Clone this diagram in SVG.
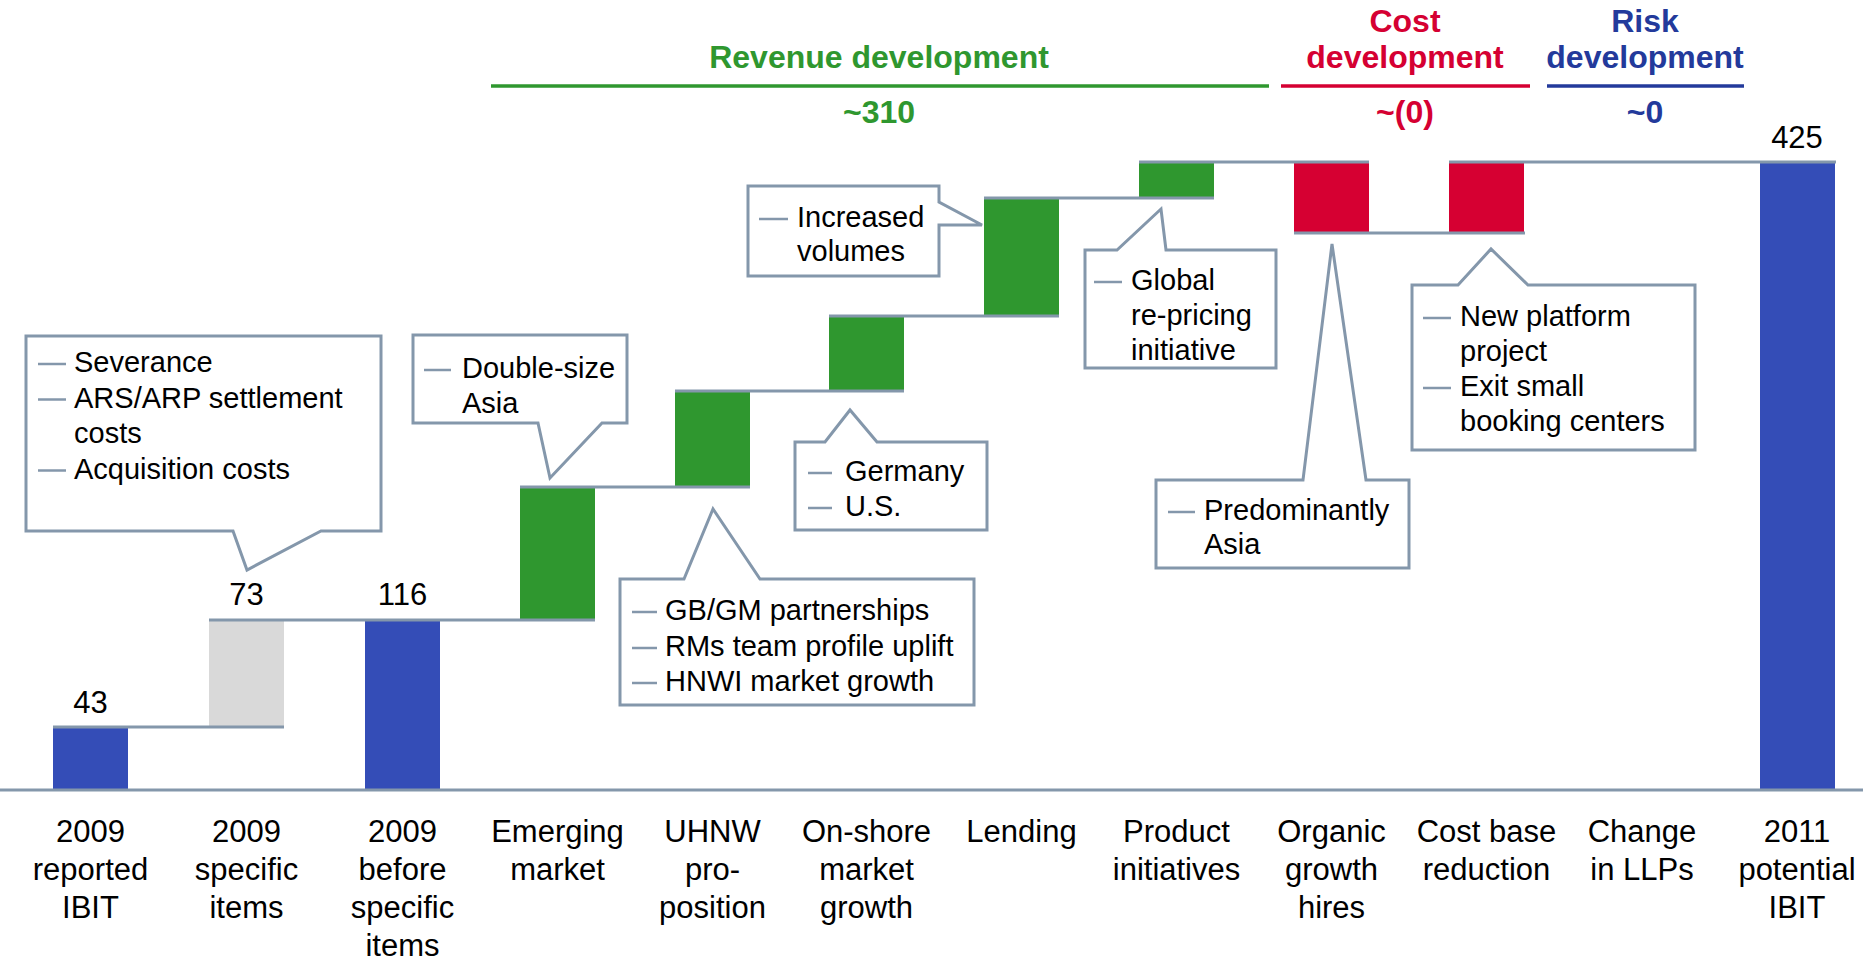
<svg xmlns="http://www.w3.org/2000/svg" width="1863" height="964" viewBox="0 0 1863 964">
<style>
text{font-family:"Liberation Sans",Arial,sans-serif;fill:#000}
.cat{font-size:31px;text-anchor:middle}
.val{font-size:31px;text-anchor:middle}
.co{font-size:29px}
.hd{font-size:32px;font-weight:bold;text-anchor:middle}
.g{fill:#2F972F}.r{fill:#D50032}.b{fill:#233A9B}
.bb{fill:#344DB7}.bg{fill:#2F972F}.br{fill:#D60032}.bgr{fill:#D9D9D9}
.step{stroke:#8497AB;stroke-width:3;fill:none}
.box{fill:#fff;stroke:#8497AB;stroke-width:3;stroke-linejoin:miter}
.dash{stroke:#8497AB;stroke-width:2.5}
</style>
<rect width="1863" height="964" fill="#fff"/>
<g id="headers">
<text class="hd g" x="879" y="67.5">Revenue development</text>
<line x1="491" y1="86" x2="1269" y2="86" stroke="#2F972F" stroke-width="3.5"/>
<text class="hd g" x="879" y="123">~310</text>
<text class="hd r" x="1405" y="32">Cost</text>
<text class="hd r" x="1405" y="67.5">development</text>
<line x1="1281" y1="86" x2="1530" y2="86" stroke="#D50032" stroke-width="3.5"/>
<text class="hd r" x="1405" y="123">~(0)</text>
<text class="hd b" x="1645" y="32">Risk</text>
<text class="hd b" x="1645" y="67.5">development</text>
<line x1="1547" y1="86" x2="1744" y2="86" stroke="#233A9B" stroke-width="3.5"/>
<text class="hd b" x="1645" y="123">~0</text>
</g>
<g id="bars">
<g id="bar-2009-reported"><rect class="bb" x="53" y="728" width="75" height="62"/><text class="val" x="90.5" y="713">43</text></g>
<g id="bar-2009-specific"><rect class="bgr" x="209" y="621" width="75" height="106"/><text class="val" x="246.5" y="605">73</text></g>
<g id="bar-2009-before"><rect class="bb" x="365" y="621" width="75" height="169"/><text class="val" x="402.5" y="605">116</text></g>
<g id="bar-emerging"><rect class="bg" x="520" y="488" width="75" height="131"/></g>
<g id="bar-uhnw"><rect class="bg" x="675" y="392" width="75" height="94"/></g>
<g id="bar-onshore"><rect class="bg" x="829" y="317" width="75" height="73"/></g>
<g id="bar-lending"><rect class="bg" x="984" y="199" width="75" height="116"/></g>
<g id="bar-product"><rect class="bg" x="1139" y="163" width="75" height="34"/></g>
<g id="bar-organic"><rect class="br" x="1294" y="163" width="75" height="69"/></g>
<g id="bar-costbase"><rect class="br" x="1449" y="163" width="75" height="69"/></g>
<g id="bar-2011"><rect class="bb" x="1760" y="163" width="75" height="627"/><text class="val" x="1797" y="148">425</text></g>
</g>
<g id="connectors">
<line class="step" x1="0" y1="790" x2="1863" y2="790"/>
<line class="step" x1="53" y1="727" x2="284" y2="727"/>
<line class="step" x1="209" y1="620" x2="595" y2="620"/>
<line class="step" x1="520" y1="487" x2="750" y2="487"/>
<line class="step" x1="675" y1="391" x2="904" y2="391"/>
<line class="step" x1="829" y1="316" x2="1059" y2="316"/>
<line class="step" x1="984" y1="198" x2="1214" y2="198"/>
<line class="step" x1="1139" y1="162" x2="1369" y2="162"/>
<line class="step" x1="1294" y1="233" x2="1525" y2="233"/>
<line class="step" x1="1449" y1="162" x2="1836" y2="162"/>
</g>
<g id="categories">
<text class="cat"><tspan x="90.5" y="842">2009</tspan><tspan x="90.5" y="880">reported</tspan><tspan x="90.5" y="918">IBIT</tspan></text>
<text class="cat"><tspan x="246.5" y="842">2009</tspan><tspan x="246.5" y="880">specific</tspan><tspan x="246.5" y="918">items</tspan></text>
<text class="cat"><tspan x="402.5" y="842">2009</tspan><tspan x="402.5" y="880">before</tspan><tspan x="402.5" y="918">specific</tspan><tspan x="402.5" y="956">items</tspan></text>
<text class="cat"><tspan x="557.5" y="842">Emerging</tspan><tspan x="557.5" y="880">market</tspan></text>
<text class="cat"><tspan x="712.5" y="842">UHNW</tspan><tspan x="712.5" y="880">pro-</tspan><tspan x="712.5" y="918">position</tspan></text>
<text class="cat"><tspan x="866.5" y="842">On-shore</tspan><tspan x="866.5" y="880">market</tspan><tspan x="866.5" y="918">growth</tspan></text>
<text class="cat"><tspan x="1021.5" y="842">Lending</tspan></text>
<text class="cat"><tspan x="1176.5" y="842">Product</tspan><tspan x="1176.5" y="880">initiatives</tspan></text>
<text class="cat"><tspan x="1331.5" y="842">Organic</tspan><tspan x="1331.5" y="880">growth</tspan><tspan x="1331.5" y="918">hires</tspan></text>
<text class="cat"><tspan x="1486.5" y="842">Cost base</tspan><tspan x="1486.5" y="880">reduction</tspan></text>
<text class="cat"><tspan x="1642" y="842">Change</tspan><tspan x="1642" y="880">in LLPs</tspan></text>
<text class="cat"><tspan x="1797" y="842">2011</tspan><tspan x="1797" y="880">potential</tspan><tspan x="1797" y="918">IBIT</tspan></text>
</g>
<g id="callout-specific">
<path class="box" d="M26,336 H381 V531 H321 L247,570 L233,531 H26 Z"/>
<line class="dash" x1="38" y1="364" x2="66" y2="364"/><text class="co" x="74" y="372">Severance</text>
<line class="dash" x1="38" y1="399.5" x2="66" y2="399.5"/><text class="co" x="74" y="407.5">ARS/ARP settlement</text>
<text class="co" x="74" y="443">costs</text>
<line class="dash" x1="38" y1="470.5" x2="66" y2="470.5"/><text class="co" x="74" y="478.5">Acquisition costs</text>
</g>
<g id="callout-emerging">
<path class="box" d="M413,335 H627 V423 H602 L550,478 L538,423 H413 Z"/>
<line class="dash" x1="424" y1="370" x2="451" y2="370"/><text class="co" x="462" y="378">Double-size</text>
<text class="co" x="462" y="413">Asia</text>
</g>
<g id="callout-uhnw">
<path class="box" d="M620,579 H684 L713,509 L760,579 H974 V705 H620 Z"/>
<line class="dash" x1="632" y1="612" x2="657" y2="612"/><text class="co" x="665" y="620">GB/GM partnerships</text>
<line class="dash" x1="632" y1="648" x2="657" y2="648"/><text class="co" x="665" y="656">RMs team profile uplift</text>
<line class="dash" x1="632" y1="683" x2="657" y2="683"/><text class="co" x="665" y="691">HNWI market growth</text>
</g>
<g id="callout-onshore">
<path class="box" d="M795,442 H825 L850,410 L877,442 H987 V530 H795 Z"/>
<line class="dash" x1="808" y1="473" x2="832" y2="473"/><text class="co" x="845" y="481">Germany</text>
<line class="dash" x1="808" y1="508" x2="832" y2="508"/><text class="co" x="845" y="516">U.S.</text>
</g>
<g id="callout-lending">
<path class="box" d="M748,186 H939 V202 L982,225 H939 V276 H748 Z"/>
<line class="dash" x1="759" y1="219" x2="788" y2="219"/><text class="co" x="797" y="227">Increased</text>
<text class="co" x="797" y="261">volumes</text>
</g>
<g id="callout-product">
<path class="box" d="M1085,250 H1117 L1161,209 L1166,250 H1276 V368 H1085 Z"/>
<line class="dash" x1="1094" y1="282" x2="1122" y2="282"/><text class="co" x="1131" y="290">Global</text>
<text class="co" x="1131" y="325">re-pricing</text>
<text class="co" x="1131" y="360">initiative</text>
</g>
<g id="callout-organic">
<path class="box" d="M1156,480 H1303 L1332,244 L1366,480 H1409 V568 H1156 Z"/>
<line class="dash" x1="1168" y1="512" x2="1195" y2="512"/><text class="co" x="1204" y="520">Predominantly</text>
<text class="co" x="1204" y="554">Asia</text>
</g>
<g id="callout-costbase">
<path class="box" d="M1412,285 H1458 L1491,249 L1528,285 H1695 V450 H1412 Z"/>
<line class="dash" x1="1423" y1="318" x2="1451" y2="318"/><text class="co" x="1460" y="326">New platform</text>
<text class="co" x="1460" y="361">project</text>
<line class="dash" x1="1423" y1="388" x2="1451" y2="388"/><text class="co" x="1460" y="396">Exit small</text>
<text class="co" x="1460" y="431">booking centers</text>
</g>
</svg>
